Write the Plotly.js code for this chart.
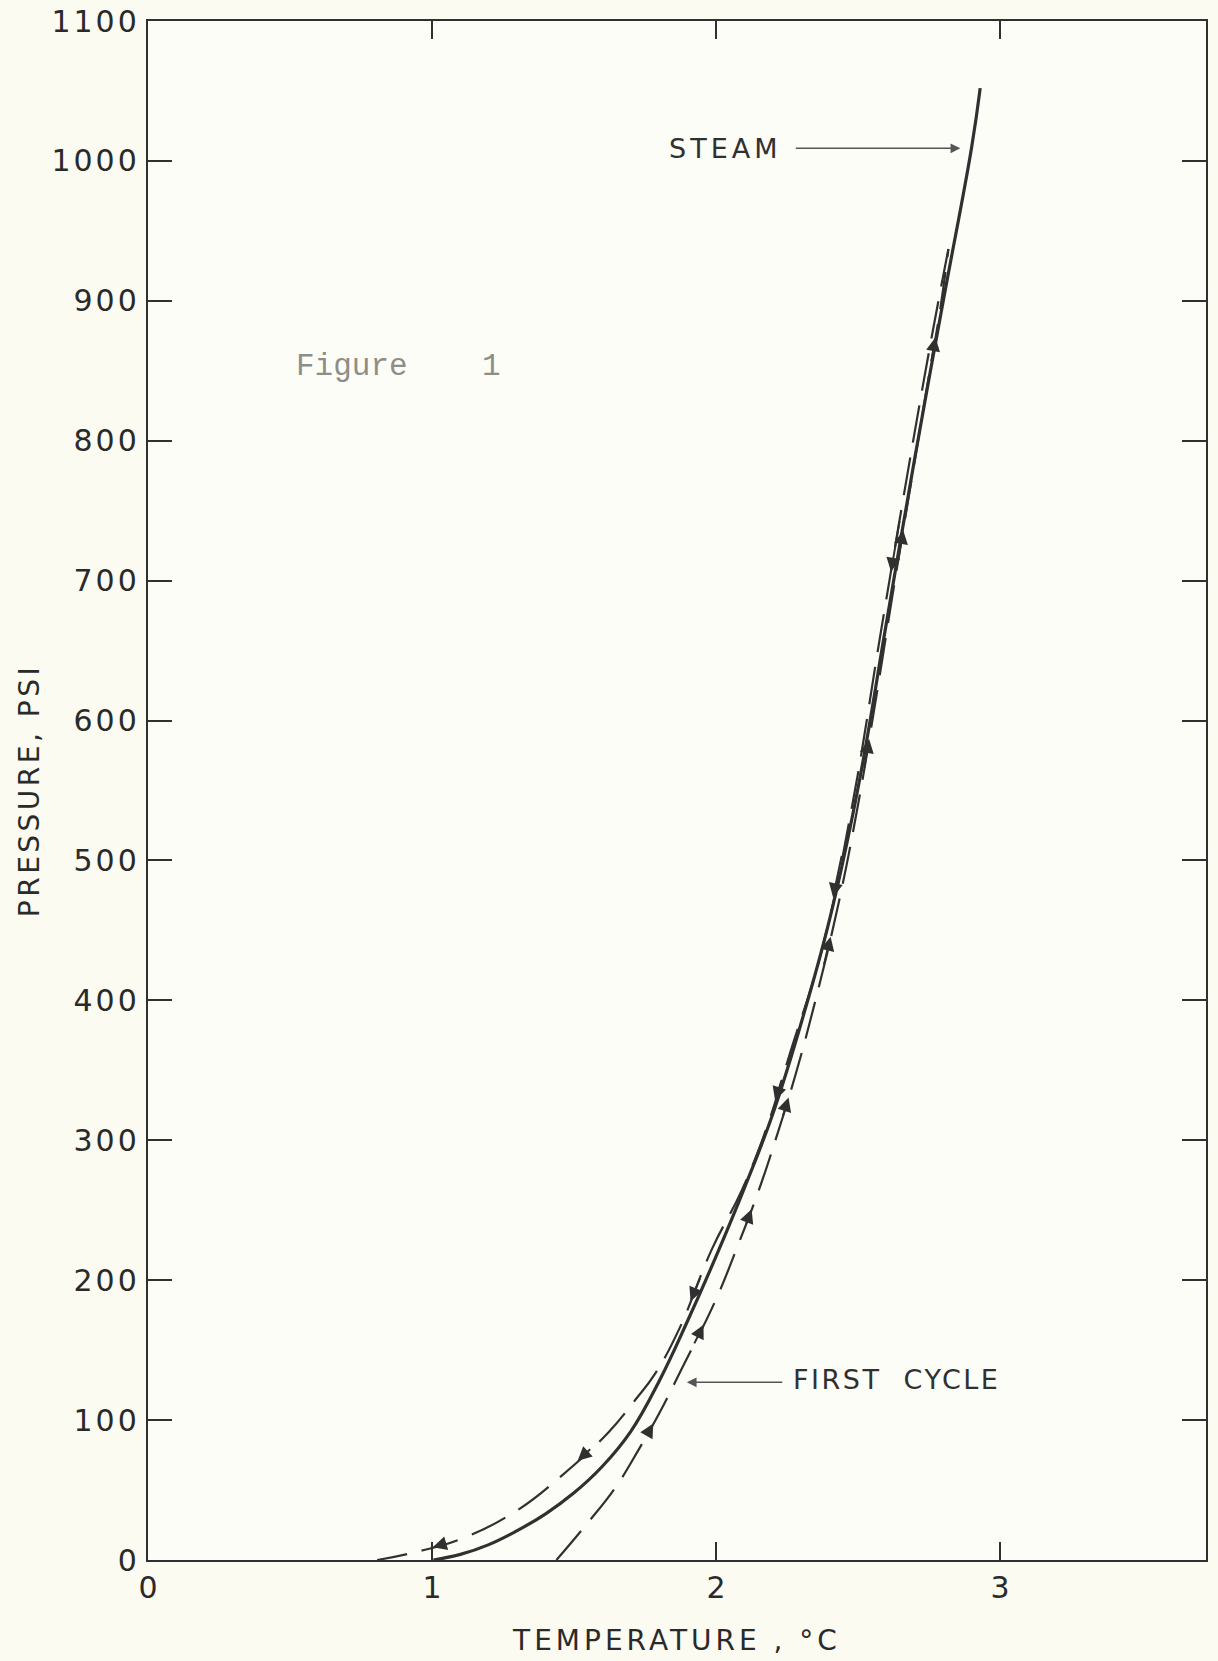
<!DOCTYPE html>
<html>
<head>
<meta charset="utf-8">
<script src="https://cdn.plot.ly/plotly-3.0.1.min.js"></script>
<style>html,body{margin:0;padding:0;background:#fbfbf2;}</style>
</head>
<body>
<div id="chart" style="width:1218px;height:1661px;"></div>
<script>
// Steam reference curve (temperature °C, pressure psi)
const steamX = [1.005, 1.1, 1.2, 1.3, 1.4, 1.5, 1.6, 1.7, 1.8, 1.9, 2.0, 2.1, 2.2, 2.3, 2.4, 2.5, 2.6, 2.7, 2.8, 2.9, 2.93];
const steamY = [0, 4, 11, 21, 33, 48, 67, 92, 128, 171, 217, 266, 319, 384, 458, 552, 670, 788, 900, 1010, 1052];

// First cycle, rising branch
const riseX = [1.438, 1.55, 1.643, 1.725, 1.808, 1.88, 1.997, 2.079, 2.15, 2.209, 2.28, 2.35, 2.432, 2.5, 2.56, 2.62, 2.68, 2.74, 2.79, 2.818];
const riseY = [0, 27, 51, 78, 108, 137, 185, 226, 264, 300, 347, 400, 470, 540, 612, 688, 762, 835, 895, 937];

// First cycle, falling branch
const fallX = [2.818, 2.76, 2.683, 2.58, 2.48, 2.375, 2.26, 2.18, 2.09, 1.985, 1.87, 1.785, 1.714, 1.62, 1.455, 1.296, 1.102, 0.949, 0.807];
const fallY = [937, 875, 787, 663, 540, 438, 362, 310, 264, 222, 165, 133, 114, 91, 60, 35, 15, 6, 0];

// Segments carrying direction arrows
const riseArrowSeg = [3, 5, 7, 9, 11, 13, 15, 17];
const fallArrowSeg = [2, 4, 6, 9, 13, 16];

// Tick labels
const xTicks = [0, 1, 2, 3];
const xTickText = ['0', '1', '2', '3'];
const yTicks = [0, 100, 200, 300, 400, 500, 600, 700, 800, 900, 1000, 1100];
const yTickText = ['0', '100', '200', '300', '400', '500', '600', '700', '800', '900', '1000', '1100'];

// Callouts
const steamLabel = {text: 'STEAM', tx: 2.03, ty: 1009, hx: 2.86, hy: 1009};
const cycleLabel = {text: 'FIRST  CYCLE', tx: 2.635, ty: 129, hx: 1.897, hy: 127};
const figLabel = {text: 'Figure\u00a0\u00a0\u00a0\u00a01', x: 0.515, y: 853};

const ink = '#303030';
const spaced = (t, px) => '<span style="letter-spacing:' + px + 'px">' + t + '</span>';

const traces = [
  {x: steamX, y: steamY, mode: 'lines', line: {color: ink, width: 3.2, shape: 'spline', smoothing: 1.2}, hoverinfo: 'skip'},
  {x: riseX, y: riseY, mode: 'lines', line: {color: ink, width: 2.2, dash: '38px,15px', shape: 'spline', smoothing: 1.2}, hoverinfo: 'skip'},
  {x: fallX, y: fallY, mode: 'lines', line: {color: ink, width: 2.2, dash: '38px,15px', shape: 'spline', smoothing: 1.2}, hoverinfo: 'skip'}
];

function arrowsFor(xs, ys, segs) {
  return segs.map(i => {
    const x0 = xs[i], y0 = ys[i], x1 = xs[i + 1], y1 = ys[i + 1];
    return {
      x: x0 + (x1 - x0) * 0.65, y: y0 + (y1 - y0) * 0.65,
      ax: x0 + (x1 - x0) * 0.35, ay: y0 + (y1 - y0) * 0.35,
      xref: 'x', yref: 'y', axref: 'x', ayref: 'y',
      text: '', showarrow: true, arrowhead: 2, arrowsize: 1.4, arrowwidth: 2, arrowcolor: ink
    };
  });
}

const annotations = [
  ...arrowsFor(riseX, riseY, riseArrowSeg),
  ...arrowsFor(fallX, fallY, fallArrowSeg),
  {x: steamLabel.tx, y: steamLabel.ty, xref: 'x', yref: 'y', text: spaced(steamLabel.text, 4), showarrow: false,
   xanchor: 'center', yanchor: 'middle', font: {family: 'DejaVu Sans', size: 27, color: ink}},
  {x: steamLabel.hx, y: steamLabel.hy, xref: 'x', yref: 'y', text: '', showarrow: true,
   ax: -166, ay: 0, arrowhead: 2, arrowsize: 1.3, arrowwidth: 1.5, arrowcolor: '#555'},
  {x: cycleLabel.tx, y: cycleLabel.ty, xref: 'x', yref: 'y', text: spaced(cycleLabel.text, 2.5), showarrow: false,
   xanchor: 'center', yanchor: 'middle', font: {family: 'DejaVu Sans', size: 27, color: ink}},
  {x: cycleLabel.hx, y: cycleLabel.hy, xref: 'x', yref: 'y', text: '', showarrow: true,
   ax: 97, ay: 0, arrowhead: 2, arrowsize: 1.3, arrowwidth: 1.5, arrowcolor: '#555'},
  {x: figLabel.x, y: figLabel.y, xref: 'x', yref: 'y', text: figLabel.text, showarrow: false,
   xanchor: 'left', yanchor: 'middle', font: {family: 'Liberation Mono', size: 31, color: '#8e8e88'}}
];

const layout = {
  width: 1218, height: 1661,
  margin: {l: 148, r: 12, t: 21, b: 101},
  paper_bgcolor: '#fbfbf2', plot_bgcolor: '#fdfdf8',
  showlegend: false,
  font: {family: 'DejaVu Sans', color: '#2a2a2a'},
  xaxis: {
    range: [0, 3.725], tickmode: 'array', tickvals: xTicks, ticktext: xTickText,
    ticks: 'inside', ticklen: 18, tickwidth: 2, tickcolor: ink,
    showline: true, linewidth: 2.2, linecolor: ink, mirror: 'ticks',
    showgrid: false, zeroline: false, tickfont: {size: 30, color: '#2a2a2a'},
    title: {text: spaced('TEMPERATURE , °C', 4), font: {size: 28, color: '#2a2a2a'}, standoff: 26}
  },
  yaxis: {
    range: [0, 1100], tickmode: 'array', tickvals: yTicks,
    ticktext: yTickText.map(t => spaced(t, 3)),
    ticks: 'inside', ticklen: 24, tickwidth: 2, tickcolor: ink,
    showline: true, linewidth: 2.2, linecolor: ink, mirror: 'ticks',
    showgrid: false, zeroline: false, tickfont: {size: 30, color: '#2a2a2a'},
    title: {text: spaced('PRESSURE, PSI', 3.5), font: {size: 28, color: '#2a2a2a'}, standoff: 4}
  },
  annotations: annotations
};

Plotly.newPlot('chart', traces, layout, {displayModeBar: false, staticPlot: true});
</script>
</body>
</html>
